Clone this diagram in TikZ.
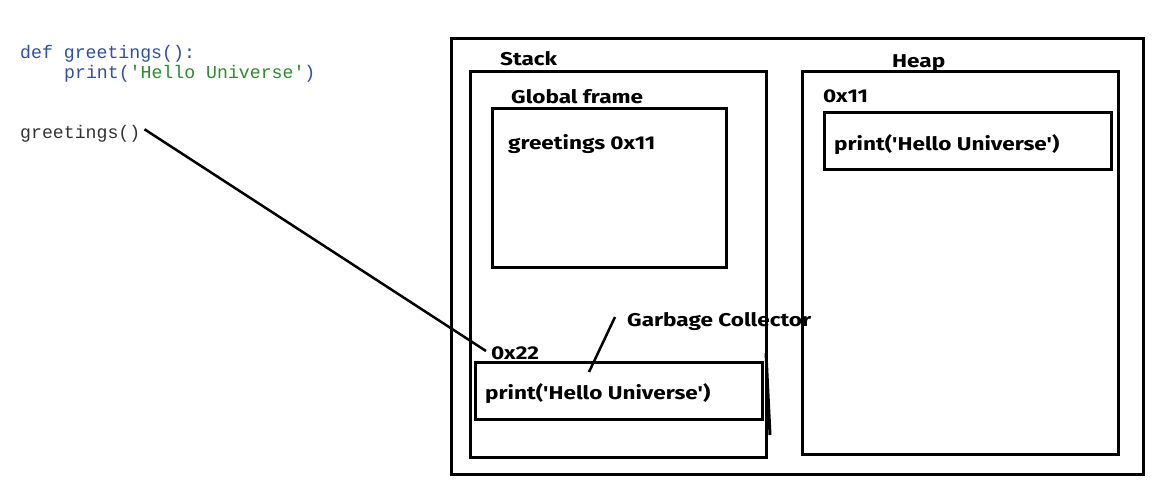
\documentclass[tikz,border=0pt]{standalone}
\usepackage{fontspec}
\newfontfamily\hand{Fira Sans}[UprightFont=* Bold,FakeStretch=1.22]
\newfontfamily\code{Liberation Mono}
\definecolor{kwblue}{HTML}{2F4F9F}
\definecolor{strgreen}{HTML}{2E8B2E}
\definecolor{codegray}{HTML}{333333}
\begin{document}
\begin{tikzpicture}[x=1pt,y=-1pt,
  box/.style={draw=black,line width=3pt,minimum width=#1,inner sep=0pt,outer sep=0pt},
  lbl/.style={font=\hand\fontsize{18.5}{20}\selectfont,inner sep=0pt,anchor=west},
  codetxt/.style={font=\code\fontsize{18.2}{20}\selectfont,inner sep=0pt,anchor=base west},
  wire/.style={draw=black,line width=2.5pt}]
\useasboundingbox[fill=white] (0,0) rectangle (1175,494);
% code
\node[codetxt,text=kwblue] (def) at (20,59) {def greetings():};
\node[codetxt] (prn) at (64,79) {\textcolor{kwblue}{print(}\textcolor{strgreen}{'Hello Universe'}\textcolor{kwblue}{)}};
\node[codetxt,text=codegray] (call) at (20,139) {greetings()};
% boxes
\node[box=692pt,minimum height=435pt] (outer) at (797,256.5) {};
\node[box=296pt,minimum height=385pt] (stack) at (618,264.5) {};
\node[box=234pt,minimum height=159pt] (glob) at (609,188.5) {};
\node[box=316pt,minimum height=382pt] (heap) at (960,263) {};
\node[box=287pt,minimum height=57pt] (hprint) at (967.5,141.5) {};
\node[box=287pt,minimum height=57pt] (sprint) at (618.5,390.5) {};
% extra hand strokes
\draw[line width=3pt] (766,353) -- (770,435);
% labels
\node[lbl] (stacklbl) at (500,59) {Stack};
\node[lbl] (heaplbl) at (892,63) {Heap};
\node[lbl] (globlbl) at (511,97) {Global frame};
\node[lbl] (gvar) at (508,144) {greetings 0x11};
\node[lbl] (h11) at (823,96) {0x11};
\node[lbl] (htext) at (834,145) {print('Hello Universe')};
\node[lbl] (a22) at (491,353) {0x22};
\node[lbl] (stext) at (485,394) {print('Hello Universe')};
\node[lbl] (gc) at (627,322) {Garbage Collector};
% connectors
\coordinate (gcend) at (589,372);
\draw[wire] ([xshift=4pt,yshift=5pt]call.east) -- ([xshift=-5pt,yshift=2pt]a22.west);
\draw[wire] ([xshift=-12pt,yshift=5pt]gc.west) -- (gcend);
\end{tikzpicture}
\end{document}
